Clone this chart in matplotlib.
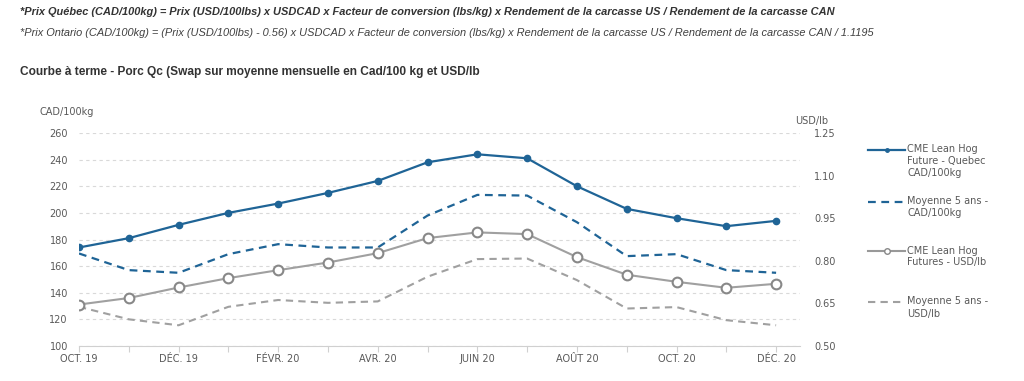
import matplotlib
matplotlib.use("Agg")
import matplotlib.pyplot as plt
from matplotlib.lines import Line2D

months = ["OCT. 19", "NOV. 19", "DÉC. 19", "JANV. 20", "FÉVR. 20", "MARS 20", "AVR. 20",
          "MAI 20", "JUIN 20", "JUIL. 20", "AOÛT 20", "SEPT. 20", "OCT. 20", "NOV. 20", "DÉC. 20"]
cme_qc_cad = [174, 181, 191, 200, 207, 215, 224, 238, 244, 241, 220, 203, 196, 190, 194]
avg5_cad = [169.5, 157, 155, 169, 176.5, 174, 174, 198, 213.5, 213, 193, 167.5, 169, 157, 155]
cme_usd = [0.646, 0.669, 0.706, 0.739, 0.767, 0.794, 0.827, 0.880, 0.900, 0.894,
           0.813, 0.751, 0.726, 0.705, 0.719]
avg5_usd = [0.638, 0.594, 0.573, 0.638, 0.662, 0.652, 0.657, 0.744, 0.806, 0.808,
            0.732, 0.632, 0.637, 0.591, 0.573]
left_ticks = [100, 120, 140, 160, 180, 200, 220, 240, 260]
right_ticks = [0.50, 0.65, 0.80, 0.95, 1.10, 1.25]
legend_labels = ["CME Lean Hog\nFuture - Quebec\nCAD/100kg",
                 "Moyenne 5 ans -\nCAD/100kg",
                 "CME Lean Hog\nFutures - USD/lb",
                 "Moyenne 5 ans -\nUSD/lb"]

BLUE = "#1f6496"
GRAY = "#a0a0a0"
TXT = "#595959"
W, H = 1024, 381

fig = plt.figure(figsize=(W / 100, H / 100), dpi=100)
ax = fig.add_axes([79 / W, 1 - 346 / H, (800 - 79) / W, (346 - 133) / H])
ax2 = ax.twinx()

x = list(range(len(months)))
ax.plot(x, cme_qc_cad, color=BLUE, lw=1.6, marker="o", ms=4.5, zorder=5)
ax.plot(x, avg5_cad, color=BLUE, lw=1.6, ls=(0, (3.5, 2.5)), zorder=4)
ax2.plot(x, cme_usd, color=GRAY, lw=1.5, marker="o", ms=7, mfc="white", mec="#888888", mew=1.5, zorder=5)
ax2.plot(x, avg5_usd, color=GRAY, lw=1.5, ls=(0, (3.5, 2.5)), zorder=4)

ax.set_xlim(0, 14.48)
ax.set_ylim(100, 260)
ax2.set_ylim(0.5, 1.25)
ax.set_yticks(left_ticks)
ax.set_yticklabels([str(v) for v in left_ticks])
ax2.set_yticks(right_ticks)
ax2.set_yticklabels([f"{v:.2f}" for v in right_ticks])
ax.set_xticks(x)
ax.set_xticklabels([m if i % 2 == 0 else "" for i, m in enumerate(months)])

for a in (ax, ax2):
    for s in a.spines.values():
        s.set_visible(False)
ax.spines["bottom"].set_visible(True)
ax.spines["bottom"].set_color("#d0d0d0")
ax.grid(axis="y", color="#d9d9d9", ls=(0, (3, 3)), lw=0.8)
ax.set_axisbelow(True)
ax.tick_params(axis="y", length=0, labelsize=7, labelcolor=TXT, pad=8)
ax2.tick_params(axis="y", length=0, labelsize=7, labelcolor=TXT, pad=10)
ax.tick_params(axis="x", length=4, color="#d0d0d0", labelsize=7, labelcolor=TXT, pad=2)

fig.text(40 / W, 1 - 112 / H, "CAD/100kg", fontsize=7, color=TXT, va="center", ha="left")
fig.text(795 / W, 1 - 121 / H, "USD/lb", fontsize=7, color=TXT, va="center", ha="left")

fig.text(20 / W, 1 - 12 / H,
         "*Prix Québec (CAD/100kg) = Prix (USD/100lbs) x USDCAD x Facteur de conversion (lbs/kg) x Rendement de la carcasse US / Rendement de la carcasse CAN",
         fontsize=7.9, fontweight="bold", fontstyle="italic", family="Liberation Sans", color="#333333", va="center")
fig.text(20 / W, 1 - 33 / H,
         "*Prix Ontario (CAD/100kg) = (Prix (USD/100lbs) - 0.56) x USDCAD x Facteur de conversion (lbs/kg) x Rendement de la carcasse US / Rendement de la carcasse CAN / 1.1195",
         fontsize=7.95, fontstyle="italic", family="Liberation Sans", color="#404040", va="center")
fig.text(20 / W, 1 - 72 / H,
         "Courbe à terme - Porc Qc (Swap sur moyenne mensuelle en Cad/100 kg et USD/lb",
         fontsize=8.6, fontweight="bold", family="Liberation Sans", color="#333333", va="center")

# legend drawn manually
styles = [dict(color=BLUE, lw=1.6, marker="o", ms=2.5, markevery=[1]),
          dict(color=BLUE, lw=1.6, ls=(0, (3.5, 2.5))),
          dict(color="#999999", lw=1.5, marker="o", ms=4, mfc="white", mec="#888888", markevery=[1]),
          dict(color=GRAY, lw=1.5, ls=(0, (3.5, 2.5)))]
ys = [150, 202, 251, 302]
for st, yy, lab in zip(styles, ys, legend_labels):
    ln = Line2D([868 / W, 886.5 / W, 905 / W], [1 - yy / H] * 3, transform=fig.transFigure, **st)
    fig.add_artist(ln)
    fig.text(907 / W, 1 - (yy - 5.5) / H, lab, fontsize=7, color=TXT, va="top", ha="left", linespacing=1.25)

fig.savefig("out.png", dpi=100)
